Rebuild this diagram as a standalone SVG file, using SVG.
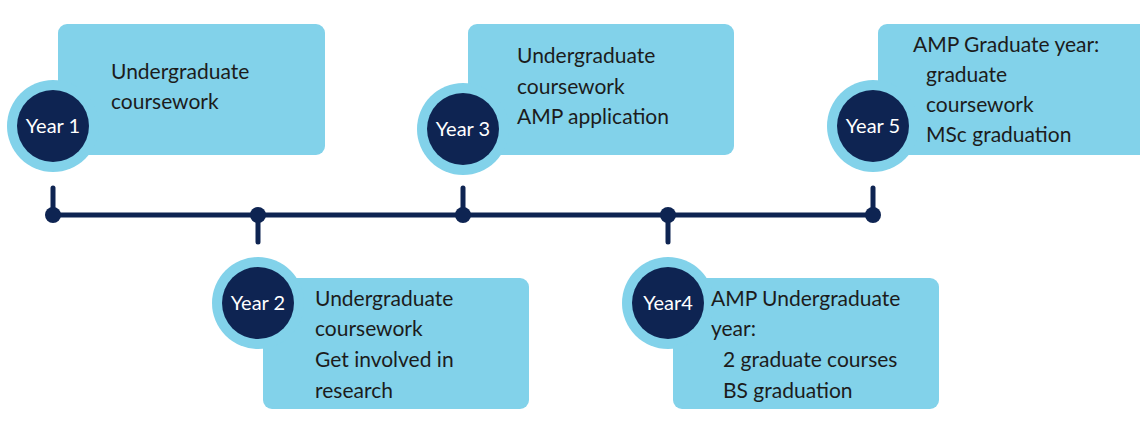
<svg xmlns="http://www.w3.org/2000/svg" width="1140" height="435" viewBox="0 0 1140 435">
<style>
.box{fill:#82d2ea}
.ring{fill:#82d2ea}
.dot{fill:#0e2452}
.t{font-family:"Lato","Open Sans",sans-serif;font-size:21px;fill:#1c1c1c}
.y{font-family:"Lato","Open Sans",sans-serif;font-size:20px;fill:#fff;text-anchor:middle}
.ln{stroke:#0e2452;stroke-width:5;stroke-linecap:round;fill:none}
</style>
<rect width="1140" height="435" fill="#fff"/>
<g id="connectors">
<line class="ln" x1="53" y1="215" x2="873" y2="215"/>
<line class="ln" x1="53" y1="188" x2="53" y2="215"/>
<line class="ln" x1="463" y1="188" x2="463" y2="215"/>
<line class="ln" x1="873" y1="188" x2="873" y2="215"/>
<line class="ln" x1="258" y1="215" x2="258" y2="242"/>
<line class="ln" x1="668" y1="215" x2="668" y2="242"/>
<circle class="dot" cx="53" cy="215" r="8"/>
<circle class="dot" cx="258" cy="215" r="8"/>
<circle class="dot" cx="463" cy="215" r="8"/>
<circle class="dot" cx="668" cy="215" r="8"/>
<circle class="dot" cx="873" cy="215" r="8"/>
</g>
<g id="year1">
<rect class="box" x="58" y="24" width="267" height="131" rx="9"/>
<circle class="ring" cx="53" cy="126" r="46"/>
<circle class="dot" cx="53" cy="126" r="36"/>
<text class="y" x="53" y="133">Year 1</text>
<text class="t" x="111" y="79">Undergraduate</text>
<text class="t" x="111" y="109">coursework</text>
</g>
<g id="year2">
<rect class="box" x="263" y="278" width="266" height="131" rx="9"/>
<circle class="ring" cx="258" cy="303" r="46"/>
<circle class="dot" cx="258" cy="303" r="36"/>
<text class="y" x="258" y="310">Year 2</text>
<text class="t" x="315" y="306">Undergraduate</text>
<text class="t" x="315" y="336">coursework</text>
<text class="t" x="315" y="367">Get involved in</text>
<text class="t" x="315" y="398">research</text>
</g>
<g id="year3">
<rect class="box" x="468" y="24" width="266" height="131" rx="9"/>
<circle class="ring" cx="463" cy="129" r="46"/>
<circle class="dot" cx="463" cy="129" r="36"/>
<text class="y" x="463" y="136">Year 3</text>
<text class="t" x="517" y="63">Undergraduate</text>
<text class="t" x="517" y="94">coursework</text>
<text class="t" x="517" y="124">AMP application</text>
</g>
<g id="year4">
<rect class="box" x="673" y="278" width="266" height="131" rx="9"/>
<circle class="ring" cx="668" cy="303" r="46"/>
<circle class="dot" cx="668" cy="303" r="36"/>
<text class="y" x="668" y="310">Year4</text>
<text class="t" x="711" y="306">AMP Undergraduate</text>
<text class="t" x="711" y="336">year:</text>
<text class="t" x="723" y="367">2 graduate courses</text>
<text class="t" x="723" y="398">BS graduation</text>
</g>
<g id="year5">
<rect class="box" x="878" y="24" width="280" height="131" rx="9"/>
<circle class="ring" cx="873" cy="126" r="46"/>
<circle class="dot" cx="873" cy="126" r="36"/>
<text class="y" x="873" y="133">Year 5</text>
<text class="t" x="913" y="52">AMP Graduate year:</text>
<text class="t" x="926" y="82">graduate</text>
<text class="t" x="926" y="112">coursework</text>
<text class="t" x="926" y="142">MSc graduation</text>
</g>
</svg>
